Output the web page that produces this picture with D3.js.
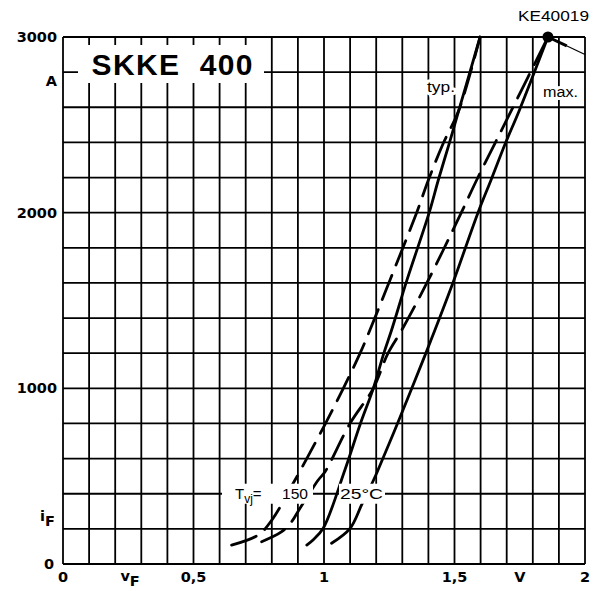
<!DOCTYPE html>
<html>
<head>
<meta charset="utf-8">
<script src="https://cdn.jsdelivr.net/npm/d3@7"></script>
<style>
  body { margin: 0; background: #fff; }
  svg { font-family: "Liberation Sans", Arial, sans-serif; }
  text { fill: #000; }
</style>
</head>
<body>
<div id="chart"></div>
<script>
// forward voltage vF (V) vs forward current iF (A)
var typ150V = [0.646, 0.748, 0.80, 0.889, 1.006, 1.074, 1.138, 1.176, 1.253, 1.355, 1.40, 1.457, 1.517, 1.598];
var typ150I = [108, 165, 250, 478, 801, 1000, 1199, 1332, 1617, 2000, 2186, 2395, 2585, 3000];

var typ25V = [0.934, 0.96, 0.997, 1.08, 1.14, 1.189, 1.229, 1.259, 1.318, 1.403, 1.438, 1.48, 1.517, 1.598];
var typ25I = [108, 140, 203, 535, 801, 1000, 1199, 1332, 1617, 2000, 2186, 2395, 2585, 3000];

var max150V = [0.761, 0.838, 0.876, 0.908, 0.978, 1.004, 1.10, 1.189, 1.245, 1.298, 1.40, 1.526, 1.585, 1.655, 1.719, 1.858];
var max150I = [127, 184, 241, 317, 478, 525, 801, 1000, 1199, 1332, 1617, 2000, 2186, 2395, 2585, 3000];

var max25V = [1.029, 1.10, 1.144, 1.19, 1.207, 1.282, 1.39, 1.425, 1.498, 1.59, 1.64, 1.695, 1.749, 1.858];
var max25I = [118, 203, 336, 478, 535, 801, 1199, 1332, 1617, 2000, 2186, 2395, 2585, 3000];

var xTickVals = [0, 0.5, 1, 1.5, 2];
var xTickText = ["0", "0,5", "1", "1,5", "2"];
var yTickVals = [0, 1000, 2000, 3000];

var tickFont = "'DejaVu Sans', sans-serif";

function main() {
    var margin = {top: 37, right: 17, bottom: 27, left: 63},
        width = 602 - margin.left - margin.right,
        height = 591 - margin.top - margin.bottom;

    var svg = d3.select("#chart")
        .append("svg")
        .attr("width", 602)
        .attr("height", 591)
        .append("g")
        .attr("transform", "translate(" + margin.left + "," + margin.top + ")");

    var x = d3.scaleLinear().domain([0, 2]).range([0, width]);
    var y = d3.scaleLinear().domain([0, 3000]).range([height, 0]);

    // grid: 0.1 V by 200 A
    var grid = svg.append("g");
    grid.selectAll(".vl")
        .data(d3.range(0, 21).map(function (i) { return i / 10; }))
        .join("line")
        .attr("x1", function (d) { return x(d); })
        .attr("x2", function (d) { return x(d); })
        .attr("y1", 0)
        .attr("y2", height)
        .attr("stroke", "#000")
        .attr("stroke-width", 1.8);
    grid.selectAll(".hl")
        .data(d3.range(0, 16).map(function (i) { return i * 200; }))
        .join("line")
        .attr("x1", 0)
        .attr("x2", width)
        .attr("y1", function (d) { return y(d); })
        .attr("y2", function (d) { return y(d); })
        .attr("stroke", "#000")
        .attr("stroke-width", 1.8);

    // white box behind the title
    svg.append("rect")
        .attr("x", 15).attr("y", 8)
        .attr("width", 186).attr("height", 38)
        .attr("fill", "#fff");
    svg.append("text")
        .attr("x", 109).attr("y", 38)
        .attr("text-anchor", "middle")
        .attr("font-size", "30px")
        .attr("font-weight", "bold")
        .attr("textLength", 161)
        .style("white-space", "pre")
        .text("SKKE  400");

    // curves
    var line = d3.line()
        .x(function (d) { return x(d[0]); })
        .y(function (d) { return y(d[1]); })
        .curve(d3.curveCatmullRom.alpha(0.5));

    var series = [
        {v: typ150V, i: typ150I, dash: "26,11"},
        {v: max150V, i: max150I, dash: "26,11"},
        {v: max25V, i: max25I, dash: null},
        {v: typ25V, i: typ25I, dash: null}
    ];
    series.forEach(function (s) {
        svg.append("path")
            .attr("d", line(d3.zip(s.v, s.i)))
            .attr("fill", "none")
            .attr("stroke", "#000")
            .attr("stroke-width", 2.8)
            .attr("stroke-linecap", "round")
            .attr("stroke-dasharray", s.dash);
    });

    // max point marker and leader
    svg.append("line")
        .attr("x1", x(1.858)).attr("y1", y(3000))
        .attr("x2", x(2.0)).attr("y2", y(2900))
        .attr("stroke", "#000").attr("stroke-width", 1.2);
    svg.append("line")
        .attr("x1", x(1.858)).attr("y1", y(3000))
        .attr("x2", x(1.93)).attr("y2", y(2950))
        .attr("stroke", "#000").attr("stroke-width", 3);
    svg.append("circle")
        .attr("cx", x(1.858)).attr("cy", y(3000))
        .attr("r", 5.5)
        .attr("fill", "#000");

    function halo(sel) {
        return sel.attr("stroke", "#fff")
            .attr("stroke-width", 6)
            .attr("paint-order", "stroke")
            .attr("stroke-linejoin", "round");
    }

    halo(svg.append("text")
        .attr("x", 364).attr("y", 55)
        .attr("font-size", "15px")
        .attr("textLength", 28)
        .attr("lengthAdjust", "spacingAndGlyphs")
        .text("typ."));
    halo(svg.append("text")
        .attr("x", 480).attr("y", 60)
        .attr("font-size", "14px")
        .attr("textLength", 35)
        .attr("lengthAdjust", "spacingAndGlyphs")
        .text("max."));

    // T_vj label: white patches hide grid and curves behind it
    var ty = y(400);
    svg.append("rect")
        .attr("x", 159).attr("y", ty - 10)
        .attr("width", 91).attr("height", 20)
        .attr("fill", "#fff");
    svg.append("rect")
        .attr("x", 276).attr("y", ty - 10)
        .attr("width", 46).attr("height", 20)
        .attr("fill", "#fff");
    var tvj = svg.append("text")
        .attr("x", 172).attr("y", ty + 5)
        .attr("font-size", "15px");
    tvj.append("tspan").text("T");
    tvj.append("tspan").attr("dy", 4).attr("font-size", "12px").text("vj");
    tvj.append("tspan").attr("dy", -4).text("=");
    svg.append("text")
        .attr("x", 219).attr("y", ty + 5)
        .attr("font-size", "15px")
        .attr("textLength", 26)
        .attr("lengthAdjust", "spacingAndGlyphs")
        .text("150");
    svg.append("text")
        .attr("x", 277).attr("y", ty + 5)
        .attr("font-size", "15px")
        .attr("textLength", 43)
        .attr("lengthAdjust", "spacingAndGlyphs")
        .text("25°C");

    // axis labels
    var yl = svg.append("g");
    yl.selectAll("text")
        .data(yTickVals)
        .join("text")
        .attr("x", function (d) { return d === 0 ? -9 : -6; })
        .attr("y", function (d) { return y(d) + 5; })
        .attr("text-anchor", "end")
        .attr("font-size", "14.5px")
        .attr("font-weight", "bold")
        .style("font-family", tickFont)
        .text(function (d) { return d; });
    yl.append("text")
        .attr("x", -6).attr("y", 49)
        .attr("text-anchor", "end")
        .attr("font-size", "14.5px")
        .attr("font-weight", "bold")
        .style("font-family", tickFont)
        .text("A");
    var iF = yl.append("text")
        .attr("x", -23).attr("y", 484)
        .attr("font-size", "14.5px")
        .attr("font-weight", "bold")
        .style("font-family", tickFont);
    iF.append("tspan").text("i");
    iF.append("tspan").attr("dy", 5).text("F");

    var xl = svg.append("g");
    xl.selectAll("text")
        .data(xTickVals)
        .join("text")
        .attr("x", function (d) { return x(d); })
        .attr("y", height + 18)
        .attr("text-anchor", "middle")
        .attr("font-size", "14.5px")
        .attr("font-weight", "bold")
        .style("font-family", tickFont)
        .text(function (d, i) { return xTickText[i]; });
    xl.append("text")
        .attr("x", x(1.75)).attr("y", height + 18)
        .attr("text-anchor", "middle")
        .attr("font-size", "14.5px")
        .attr("font-weight", "bold")
        .style("font-family", tickFont)
        .text("V");
    var vF = xl.append("text")
        .attr("x", x(0.22)).attr("y", height + 17)
        .attr("font-size", "14.5px")
        .attr("font-weight", "bold")
        .style("font-family", tickFont);
    vF.append("tspan").text("v");
    vF.append("tspan").attr("dy", 5).text("F");

    svg.append("text")
        .attr("x", 526).attr("y", -16)
        .attr("text-anchor", "end")
        .attr("font-size", "15px")
        .attr("textLength", 71)
        .attr("lengthAdjust", "spacingAndGlyphs")
        .text("KE40019");
}

main()
</script>
</body>
</html>
